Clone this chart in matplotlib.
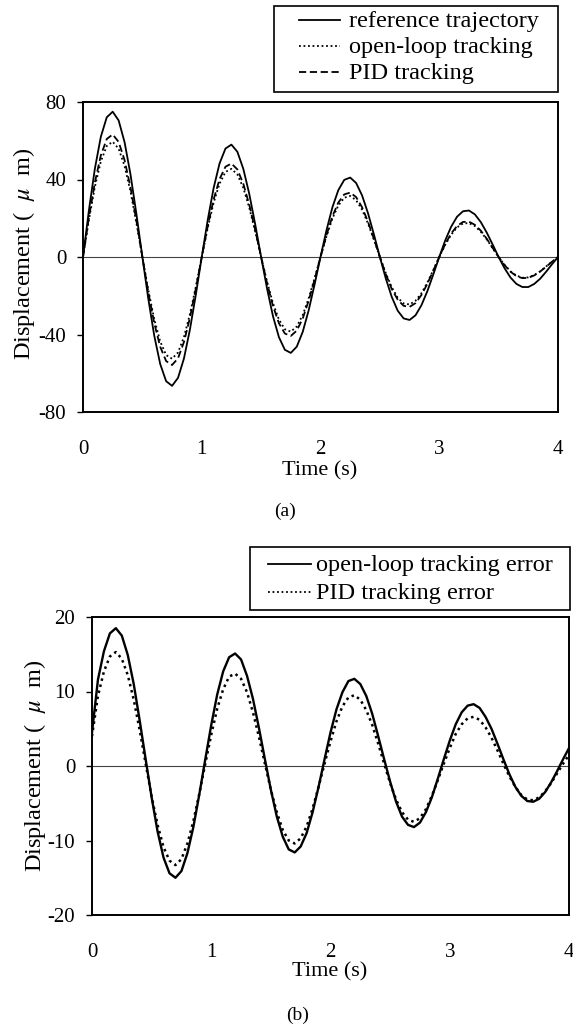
import numpy as np
import matplotlib
matplotlib.use("Agg")
import matplotlib.pyplot as plt
from matplotlib.lines import Line2D
from matplotlib.patches import Rectangle

plt.rcParams['font.family'] = ['Liberation Serif', 'DejaVu Serif']
plt.rcParams['mathtext.fontset'] = 'stix'
plt.rcParams['axes.unicode_minus'] = False

# time axis, 0.05 s step
t = np.arange(81) * 0.05

# (a) displacement, um
reference = [0, 24.2, 45.6, 62.0, 72.1, 75.0, 70.5, 59.3, 42.6, 22.1,
             0, -21.6, -40.6, -55.2, -64.1, -66.5, -62.4, -52.4, -37.6, -19.5,
             0, 19.0, 35.6, 48.3, 56.0, 58.0, 54.3, 45.5, 32.6, 16.9,
             0, -16.3, -30.6, -41.4, -47.9, -49.5, -46.3, -38.7, -27.6, -14.2,
             0, 13.7, 25.6, 34.5, 39.8, 41.0, 38.2, 31.8, 22.6, 11.6,
             0, -11.1, -20.6, -27.7, -31.7, -32.5, -30.1, -24.9, -17.6, -9.0,
             0, 8.5, 15.6, 20.8, 23.6, 24.0, 22.0, 18.0, 12.6, 6.4,
             0, -5.8, -10.6, -13.9, -15.5, -15.5, -13.9, -11.2, -7.6, -3.7, 0]
open_loop = [0, 19.3, 36.2, 49.3, 57.3, 59.5, 55.9, 47.0, 33.8, 17.5,
             0, -17.1, -32.1, -43.6, -50.6, -52.5, -49.3, -41.3, -29.6, -15.4,
             0, 14.9, 28.0, 37.9, 43.9, 45.5, 42.6, 35.7, 25.5, 13.2,
             0, -12.8, -23.9, -32.3, -37.3, -38.5, -35.9, -30.0, -21.4, -11.0,
             0, 10.6, 19.8, 26.6, 30.6, 31.5, 29.3, 24.4, 17.3, 8.9,
             0, -8.4, -15.6, -21.0, -24.0, -24.5, -22.6, -18.7, -13.2, -6.7,
             0, 6.3, 11.5, 15.3, 17.3, 17.5, 16.0, 13.0, 9.1, 4.5,
             0, -4.1, -7.4, -9.6, -10.7, -10.5, -9.3, -7.4, -4.9, -2.4, 0]
pid = [0, 20.5, 38.5, 52.4, 60.9, 63.25, 59.4, 50.0, 35.9, 18.6,
       0, -18.2, -34.1, -46.3, -53.7, -55.75, -52.3, -43.9, -31.5, -16.3,
       0, 15.8, 29.7, 40.2, 46.6, 48.25, 45.2, 37.8, 27.0, 14.0,
       0, -13.5, -25.3, -34.2, -39.5, -40.75, -38.0, -31.8, -22.6, -11.7,
       0, 11.2, 20.9, 28.1, 32.3, 33.25, 30.9, 25.7, 18.2, 9.3,
       0, -8.9, -16.5, -22.0, -25.2, -25.75, -23.8, -19.6, -13.8, -7.0,
       0, 6.6, 12.1, 16.0, 18.1, 18.25, 16.6, 13.6, 9.4, 4.7,
       0, -4.2, -7.6, -9.9, -10.9, -10.75, -9.5, -7.5, -5.0, -2.4, 0]

# (b) tracking errors, um
err_open = [4.5, 11.6, 15.4, 17.8, 18.5, 17.5, 14.9, 11.0, 6.1, 0.9,
            -4.2, -8.8, -12.3, -14.4, -15.0, -14.1, -11.7, -8.2, -3.8, 0.9,
            5.5, 9.6, 12.7, 14.6, 15.1, 14.3, 12.1, 9.0, 5.1, 0.9,
            -3.2, -6.8, -9.5, -11.2, -11.6, -10.8, -9.0, -6.2, -2.8, 0.9,
            4.5, 7.6, 9.9, 11.4, 11.7, 11.0, 9.4, 7.0, 4.0, 0.9,
            -2.1, -4.8, -6.8, -7.9, -8.2, -7.6, -6.2, -4.2, -1.7, 0.9,
            3.4, 5.6, 7.2, 8.1, 8.3, 7.8, 6.6, 5.0, 3.0, 0.9,
            -1.1, -2.8, -4.0, -4.7, -4.8, -4.4, -3.5, -2.2, -0.7, 0.9, 2.4]
err_pid = [4.0, 9.4, 12.7, 14.7, 15.3, 14.4, 12.2, 8.9, 4.8, 0.3,
           -4.1, -7.9, -10.9, -12.7, -13.3, -12.5, -10.4, -7.4, -3.7, 0.3,
           4.2, 7.7, 10.3, 12.0, 12.4, 11.7, 9.9, 7.2, 3.9, 0.3,
           -3.2, -6.2, -8.6, -10.0, -10.4, -9.7, -8.1, -5.7, -2.8, 0.3,
           3.3, 6.0, 8.0, 9.2, 9.5, 8.9, 7.5, 5.5, 3.0, 0.3,
           -2.3, -4.5, -6.2, -7.2, -7.5, -7.0, -5.8, -4.0, -1.9, 0.3,
           2.4, 4.3, 5.6, 6.4, 6.6, 6.2, 5.2, 3.8, 2.1, 0.3,
           -1.4, -2.8, -3.9, -4.5, -4.6, -4.2, -3.4, -2.3, -1.0, 0.3, 1.5]

W, H = 573, 1024
fig = plt.figure(figsize=(W / 100, H / 100), dpi=100)

def fx(x):
    return x / W

def fy(y):
    return 1 - y / H

def px_axes(x0, y0, x1, y1):
    return fig.add_axes([fx(x0), fy(y1), (x1 - x0) / W, (y1 - y0) / H])

def style(ax, ylim, yticks):
    ax.set_xlim(0, 4)
    ax.set_ylim(*ylim)
    ax.set_xticks([0, 1, 2, 3, 4])
    ax.set_yticks(yticks)
    ax.axhline(0, color='#444444', lw=0.8, zorder=1)
    for s in ax.spines.values():
        s.set_linewidth(1.4)
    ax.tick_params(axis='x', length=0, pad=20, labelsize=15)
    ax.tick_params(axis='y', direction='out', length=4, width=1, pad=8, labelsize=15)

# legend drawn by hand: box in pixels, handle span, text start, baselines
def box_legend(box, hx, tx, rows, fs=17.5):
    x0, y0, x1, y1 = box
    fig.add_artist(Rectangle((fx(x0), fy(y1)), (x1 - x0) / W, (y1 - y0) / H,
                             transform=fig.transFigure, fill=False, ec='black', lw=1.2))
    for base, ls, lw, label in rows:
        yh = base - 7
        fig.add_artist(Line2D([fx(hx[0]), fx(hx[1])], [fy(yh), fy(yh)],
                              transform=fig.transFigure, color='black', ls=ls, lw=lw))
        fig.text(fx(tx), fy(base), label, ha='left', va='baseline', fontsize=fs)

lw = 1.3
dotted = (0, (1, 1.5))
dashed = (0, (4, 2))

ax1 = px_axes(83, 102, 558, 412)
ax1.plot(t, reference, color='black', lw=lw)
ax1.plot(t, open_loop, color='black', lw=lw, ls=dotted)
ax1.plot(t, pid, color='black', lw=lw, ls=dashed)
style(ax1, (-80, 80), [-80, -40, 0, 40, 80])
box_legend((274, 6, 558, 92), (299, 340), 349,
           [(27, '-', lw, 'reference trajectory'),
            (53, dotted, lw, 'open-loop tracking'),
            (79, dashed, lw, 'PID tracking')])

ax2 = px_axes(92, 617, 569, 915)
ax2.plot(t, err_open, color='black', lw=1.7)
ax2.plot(t, err_pid, color='black', lw=1.8, ls=dotted)
style(ax2, (-20, 20), [-20, -10, 0, 10, 20])
box_legend((250, 547, 570, 610), (268, 311), 316,
           [(571, '-', lw, 'open-loop tracking error'),
            (599, dotted, lw, 'PID tracking error')])

ylab = 'Displacement (  $\\mu$  m)'
fig.text(fx(24), fy(254), ylab, rotation=90, ha='center', va='center', fontsize=17.5)
fig.text(fx(320), fy(471), 'Time (s)', ha='center', va='center', fontsize=16)
fig.text(fx(285), fy(511), '(a)', ha='center', va='center', fontsize=14)

fig.text(fx(35), fy(766), ylab, rotation=90, ha='center', va='center', fontsize=17.5)
fig.text(fx(330), fy(972), 'Time (s)', ha='center', va='center', fontsize=16)
fig.text(fx(298), fy(1015), '(b)', ha='center', va='center', fontsize=14)

fig.savefig('out.png', dpi=100)
